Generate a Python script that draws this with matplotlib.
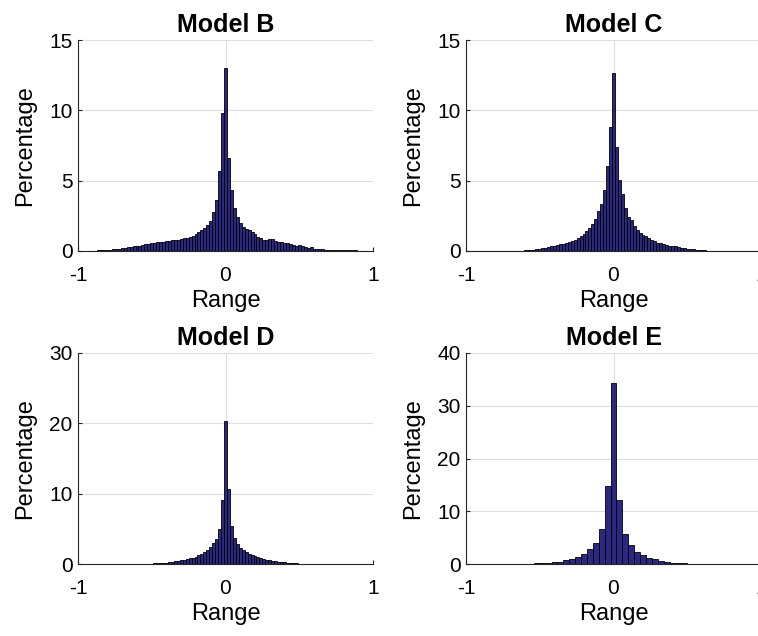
import numpy as np
import matplotlib
matplotlib.use('Agg')
import matplotlib.pyplot as plt

plt.rcParams['font.family'] = ['Liberation Sans', 'DejaVu Sans']
plt.rcParams['axes.unicode_minus'] = False

# histogram percentages, left to right, bars centred on 0
model_b = [0.01, 0.01, 0.02, 0.02, 0.02, 0.03, 0.03, 0.04, 0.04, 0.05,
           0.07, 0.08, 0.12, 0.14, 0.17, 0.21, 0.24, 0.26, 0.30, 0.35,
           0.38, 0.38, 0.43, 0.47, 0.50, 0.54, 0.60, 0.64, 0.64, 0.66,
           0.71, 0.73, 0.76, 0.78, 0.80, 0.85, 0.90, 0.95, 1.02, 1.09,
           1.20, 1.33, 1.47, 1.60, 1.87, 2.16, 2.75, 3.65, 5.72, 9.83,
           13.0,
           6.60, 4.35, 3.03, 2.44, 2.00, 1.73, 1.54, 1.50, 1.37, 1.20,
           1.02, 0.90, 0.78, 0.78, 0.88, 0.85, 0.71, 0.62, 0.62, 0.57,
           0.60, 0.50, 0.43, 0.36, 0.40, 0.38, 0.26, 0.19, 0.26, 0.17,
           0.14, 0.14, 0.12, 0.10, 0.09, 0.09, 0.07, 0.07, 0.07, 0.05,
           0.05, 0.05, 0.05, 0.05, 0.03, 0.03, 0.03, 0.02, 0.02, 0.01]

model_c = ([0.01] * 14 +
           [0.02, 0.02, 0.02, 0.02, 0.03, 0.03,
            0.04, 0.05, 0.07, 0.10, 0.13, 0.17, 0.20, 0.23, 0.28, 0.34,
            0.38, 0.44, 0.48, 0.52, 0.58, 0.66, 0.72, 0.80, 0.92, 1.05,
            1.20, 1.45, 1.60, 1.93, 2.25, 2.83, 3.35, 4.37, 6.05, 8.83,
            12.63,
            7.36, 5.05, 4.03, 3.05, 2.45, 2.17, 1.78, 1.48, 1.30, 1.17,
            1.08, 0.91, 0.78, 0.70, 0.60, 0.55, 0.49, 0.43, 0.38, 0.36,
            0.32, 0.28, 0.24, 0.19, 0.17, 0.14, 0.11, 0.08, 0.06, 0.05,
            0.04, 0.03, 0.03, 0.02, 0.02, 0.02] +
           [0.01] * 14)

model_d = ([0.01] * 12 + [0.02] * 5 +
           [0.03, 0.03, 0.03, 0.04, 0.04,
            0.05, 0.05, 0.06, 0.07, 0.09, 0.10, 0.14, 0.19,
            0.19, 0.24, 0.33, 0.38, 0.43, 0.52, 0.57, 0.66, 0.80, 0.90,
            1.04, 1.28, 1.47, 1.76, 2.00, 2.37, 3.00, 3.60, 4.94, 9.07,
            20.3,
            10.7, 5.46, 3.65, 2.80, 2.33, 2.04, 1.76, 1.47, 1.28, 1.09,
            0.95, 0.85, 0.71, 0.62, 0.52, 0.43, 0.38, 0.33, 0.28, 0.24,
            0.19, 0.14, 0.14, 0.10, 0.07, 0.07, 0.06, 0.05,
            0.04, 0.04, 0.03, 0.03, 0.03] +
           [0.02] * 5 + [0.01] * 12)

model_e = [0.01, 0.01, 0.01, 0.01, 0.02, 0.02, 0.02, 0.03, 0.03, 0.04,
           0.05, 0.07, 0.10, 0.13, 0.20, 0.30, 0.45, 0.70, 1.00, 1.42,
           1.98, 2.75, 4.05, 6.60, 14.85,
           34.35,
           12.08, 5.60, 3.60, 2.30, 1.70, 1.22, 0.98, 0.66, 0.42, 0.27,
           0.19, 0.12, 0.08, 0.06, 0.04, 0.03, 0.03, 0.02, 0.02, 0.02,
           0.01, 0.01, 0.01, 0.01, 0.01]

titles = ['Model B', 'Model C', 'Model D', 'Model E']
series = [model_b, model_c, model_d, model_e]
y_ticks = [[0, 5, 10, 15], [0, 5, 10, 15], [0, 10, 20, 30], [0, 10, 20, 30, 40]]
x_ticks = [-1, 0, 1]

BAR_COLOR = '#2c2882'
AX_COLOR = '#262626'

fig = plt.figure(figsize=(7.58, 6.36), dpi=100)

# axes boxes in pixels: left, top, right, bottom
boxes = [(78, 40, 373, 251), (466, 40, 761, 251),
         (78, 353, 373, 564), (466, 353, 761, 564)]
W, H = 758.0, 636.0

for box, title, vals, yt in zip(boxes, titles, series, y_ticks):
    l, t, r, b = box
    ax = fig.add_axes([l / W, 1 - b / H, (r - l) / W, (b - t) / H])
    n = len(vals)
    width = 2.0 / (n - 1)
    centers = (np.arange(n) - n // 2) * width
    ax.bar(centers, vals, width=width, color=BAR_COLOR, edgecolor='black',
           linewidth=0.6, zorder=2)
    ax.set_xlim(-1, 1)
    ax.set_ylim(yt[0], yt[-1])
    ax.set_xticks(x_ticks)
    ax.set_yticks(yt)
    ax.set_xticklabels([str(v) for v in x_ticks])
    ax.grid(True, color='#dedede', linewidth=0.8)
    ax.set_axisbelow(True)
    for side in ['top', 'right']:
        ax.spines[side].set_visible(False)
    for side in ['left', 'bottom']:
        ax.spines[side].set_color(AX_COLOR)
        ax.spines[side].set_linewidth(0.8)
    ax.tick_params(direction='in', length=3, width=0.8, colors=AX_COLOR,
                   labelsize=15, labelcolor='black')
    ax.tick_params(axis='x', pad=11)
    ax.tick_params(axis='y', pad=4)
    ax.set_title(title, fontsize=18, fontweight='bold', pad=6)
    ax.set_xlabel('Range', fontsize=17)
    ax.set_ylabel('Percentage', fontsize=17)
    # label positions in axes fractions
    ax.xaxis.set_label_coords(0.5, -50.0 / (b - t), transform=ax.transAxes)
    ax.yaxis.set_label_coords(-53.0 / (r - l), 0.5, transform=ax.transAxes)
    ax.xaxis.label.set_va('center')
    ax.yaxis.label.set_va('center')

fig.savefig('out.png', dpi=100)
